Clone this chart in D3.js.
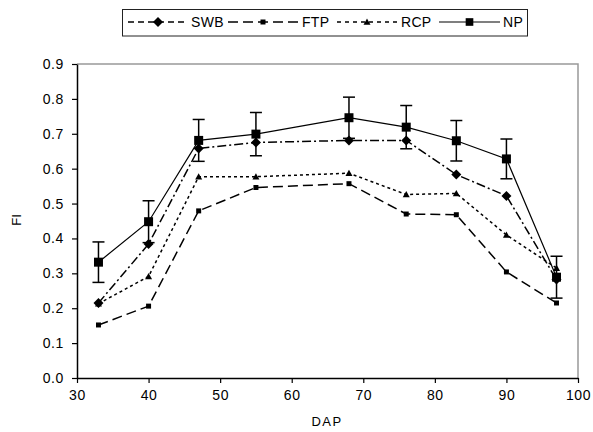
<!DOCTYPE html>
<html><head><meta charset="utf-8">
<script src="https://cdn.jsdelivr.net/npm/d3@7/dist/d3.min.js"></script>
<style>body{margin:0;background:#fff}svg{display:block;font-family:"Liberation Sans",Arial,sans-serif}</style>
</head><body>
<script>
const dap = [33, 40, 47, 55, 68, 76, 83, 90, 97];
const swb = [0.215, 0.384, 0.658, 0.675, 0.681, 0.681, 0.583, 0.522, 0.282];
const ftp = [0.152, 0.206, 0.479, 0.546, 0.557, 0.470, 0.468, 0.304, 0.215];
const rcp = [0.213, 0.291, 0.577, 0.577, 0.587, 0.526, 0.529, 0.410, 0.315];
const np  = [0.332, 0.448, 0.681, 0.699, 0.746, 0.719, 0.680, 0.628, 0.289];
const npErr = [0.058, 0.06, 0.06, 0.062, 0.059, 0.062, 0.058, 0.057, 0.06];
const seriesNames = ["SWB", "FTP", "RCP", "NP"];
const xTicks = [30, 40, 50, 60, 70, 80, 90, 100];
const yTicks = [0, 0.1, 0.2, 0.3, 0.4, 0.5, 0.6, 0.7, 0.8, 0.9];

const W = 593, H = 432;
const m = {left: 77, right: 15, top: 64, bottom: 54};
const svg = d3.select("body").append("svg").attr("width", W).attr("height", H);
const x = d3.scaleLinear().domain([30, 100]).range([m.left, W - m.right]);
const y = d3.scaleLinear().domain([0, 0.9]).range([H - m.bottom, m.top]);

// gray plot border (top, right)
svg.append("path")
  .attr("d", `M${x(30)},${y(0.9)}H${x(100)}V${y(0)}`)
  .attr("fill", "none").attr("stroke", "#999").attr("stroke-width", 1.5);

const styles = {
  SWB: {vals: swb, dash: "9,3,2,3", marker: "diamond", size: 10},
  FTP: {vals: ftp, dash: "10,5", marker: "square", size: 5},
  RCP: {vals: rcp, dash: "3,3", marker: "triangle", size: 7},
  NP:  {vals: np,  dash: null, marker: "square", size: 9}
};

function markerPath(type, s) {
  const h = s / 2;
  if (type === "square") return `M${-h},${-h}h${s}v${s}h${-s}Z`;
  if (type === "diamond") return `M0,${-h}L${h},0L0,${h}L${-h},0Z`;
  if (type === "triangle") return `M0,${-h}L${h},${h*0.8}L${-h},${h*0.8}Z`;
}

// error bars for NP
const eb = svg.append("g").attr("stroke", "#000").attr("stroke-width", 1.5);
dap.forEach((d, i) => {
  const top = y(np[i] + npErr[i]), bot = y(np[i] - npErr[i]), cx = x(d);
  eb.append("line").attr("x1", cx).attr("x2", cx).attr("y1", top).attr("y2", bot);
  eb.append("line").attr("x1", cx - 6).attr("x2", cx + 6).attr("y1", top).attr("y2", top);
  eb.append("line").attr("x1", cx - 6).attr("x2", cx + 6).attr("y1", bot).attr("y2", bot);
});

const line = d3.line();
seriesNames.forEach(name => {
  const st = styles[name];
  const pts = dap.map((d, i) => [x(d), y(st.vals[i])]);
  svg.append("path").attr("d", line(pts)).attr("fill", "none")
    .attr("stroke", "#000").attr("stroke-width", name === "NP" ? 1.2 : 1.5)
    .attr("stroke-dasharray", st.dash);
  svg.append("g").selectAll("path").data(pts).join("path")
    .attr("transform", p => `translate(${p[0]},${p[1]})`)
    .attr("d", markerPath(st.marker, st.size)).attr("fill", "#000");
});

// axes
const xAxis = d3.axisBottom(x).tickValues(xTicks).tickSize(5).tickSizeOuter(0).tickPadding(7);
const gx = svg.append("g").attr("transform", `translate(0,${y(0)})`).call(xAxis);
const yAxis = d3.axisLeft(y).tickValues(yTicks).tickSize(5).tickSizeOuter(0).tickPadding(8).tickFormat(d3.format(".1f"));
const gy = svg.append("g").attr("transform", `translate(${x(30)},0)`).call(yAxis);
[gx, gy].forEach(g => {
  g.select(".domain").attr("stroke", "#000").attr("stroke-width", 1.5);
  g.selectAll(".tick line").attr("stroke", "#000").attr("stroke-width", 1.2);
  g.selectAll(".tick text").attr("font-size", 14).attr("fill", "#000")
    .attr("letter-spacing", "0.6px")
    .attr("font-family", '"Liberation Sans",Arial,sans-serif');
});

svg.append("text").attr("x", 327).attr("y", 426).attr("text-anchor", "middle")
  .attr("font-size", 13).attr("letter-spacing", "1.5px").text("DAP");
svg.append("text").attr("transform", `translate(21,${220}) rotate(-90)`)
  .attr("text-anchor", "middle").attr("font-size", 13).text("FI");

// legend
const lg = svg.append("g");
lg.append("rect").attr("x", 122.5).attr("y", 9.5).attr("width", 405).attr("height", 26.5)
  .attr("fill", "#fff").attr("stroke", "#222").attr("stroke-width", 1);
const legendPos = [
  {name: "SWB", x1: 128, x2: 188, tx: 191},
  {name: "FTP", x1: 228, x2: 298, tx: 302},
  {name: "RCP", x1: 337, x2: 397, tx: 401},
  {name: "NP",  x1: 439, x2: 500, tx: 503}
];
const ly = 22;
legendPos.forEach(l => {
  const st = styles[l.name];
  lg.append("line").attr("x1", l.x1).attr("x2", l.x2).attr("y1", ly).attr("y2", ly)
    .attr("stroke", "#000").attr("stroke-width", l.name === "NP" ? 1.2 : 1.5)
    .attr("stroke-dasharray", l.name === "SWB" ? "6,4" : l.name === "RCP" ? "4,4" : st.dash);
  lg.append("path").attr("transform", `translate(${(l.x1 + l.x2) / 2},${ly})`)
    .attr("d", markerPath(st.marker, st.size * (l.name === "NP" ? 0.85 : 1))).attr("fill", "#000");
  lg.append("text").attr("x", l.tx).attr("y", ly + 5).attr("font-size", 14).attr("letter-spacing", "0.3px").text(l.name);
});
</script>
</body></html>
